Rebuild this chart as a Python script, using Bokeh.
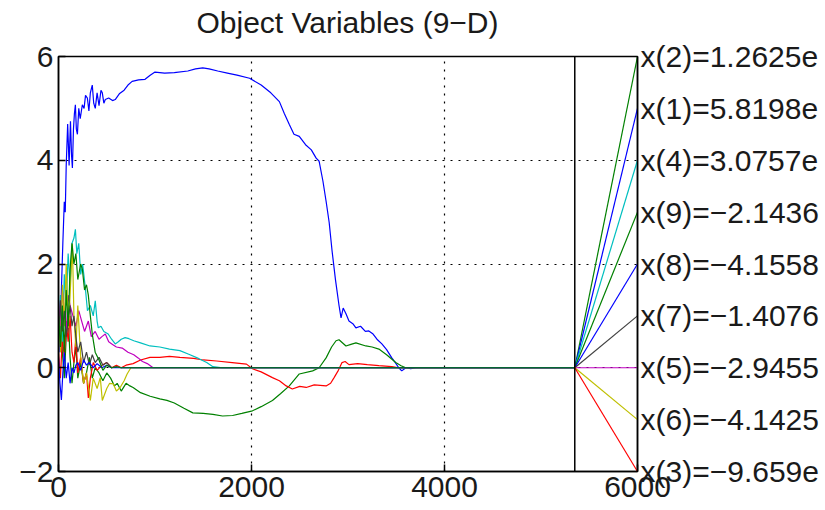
from bokeh.plotting import figure
from bokeh.models import (FixedTicker, LinearAxis, Span, Range1d, Div)
from bokeh.layouts import column
from bokeh.embed import file_html
from bokeh.resources import INLINE
import numpy as np

# ---------------- data ----------------
TITLE = "Object Variables (9\u2212D)"
X_TICKS = [0, 2000, 4000, 6000]
Y_TICKS = [-2, 0, 2, 4, 6]
END_X = 5350  # last evaluation (vertical marker)

x1_x = [0, 15, 30, 45, 60, 70, 80, 95, 110, 124, 135, 144, 155, 165, 175, 185, 196, 210, 225, 247, 265, 280, 299, 315,
        330, 350, 365, 381, 400, 420, 440, 454, 470, 485, 520, 560, 588, 630, 680, 720, 763, 830, 897, 950, 1000, 1100,
        1200, 1340, 1420, 1495, 1560, 1650, 1750, 1850, 1980, 2100, 2200, 2289, 2340, 2392, 2440, 2495, 2560, 2620, 2670,
        2701, 2740, 2773, 2805, 2835, 2870, 2907, 2928, 2950, 2979, 3010, 3050, 3082, 3130, 3180, 3216, 3260, 3300, 3351,
        3400, 3454, 3490, 3526, 3557, 3600, 3650, 3700, 3760]
x1_y = [0.8, 0.3, 1.5, 2.4, 3.2, 3.0, 3.9, 4.7, 3.9, 4.75, 4.1, 3.85, 4.6, 4.9, 5.07, 4.6, 4.5, 5.0, 4.8, 5.07, 5.0, 5.25,
        5.2, 4.95, 5.3, 5.45, 5.1, 5.0, 5.3, 5.05, 5.35, 5.3, 5.1, 5.17, 5.2, 5.15, 5.17, 5.28, 5.35, 5.45, 5.52, 5.55,
        5.56, 5.64, 5.7, 5.68, 5.69, 5.72, 5.76, 5.78, 5.76, 5.72, 5.68, 5.64, 5.58, 5.45, 5.3, 5.13, 4.9, 4.69, 4.5,
        4.46, 4.3, 4.2, 4.04, 3.98, 3.6, 3.21, 2.8, 2.25, 1.7, 1.2, 0.96, 1.15, 1.04, 0.9, 0.85, 0.77, 0.8, 0.7, 0.71,
        0.65, 0.55, 0.46, 0.35, 0.19, 0.1, 0.0, -0.06, 0.0, -0.02, 0.0, 0.0]

x2_x = [0, 20, 40, 60, 80, 100, 120, 140, 160, 180, 200, 230, 260, 290, 320, 350, 380, 420, 460, 500, 540, 580, 608, 650,
        700, 740, 773, 850, 950, 1050, 1124, 1200, 1300, 1392, 1500, 1600, 1700, 1804, 1900, 2010, 2100, 2217, 2300, 2392,
        2495, 2634, 2701, 2773, 2830, 2876, 2907, 2979, 3030, 3082, 3185, 3250, 3320, 3400, 3495, 3550, 3598, 3700]
x2_y = [0.5, 1.2, 0.3, -0.2, 0.6, 1.0, 0.2, -0.3, 0.1, 0.4, -0.2, 0.1, -0.3, -0.1, 0.2, -0.2, 0.0, -0.1, -0.25, -0.1,
        -0.2, -0.35, -0.3, -0.45, -0.3, -0.35, -0.38, -0.48, -0.55, -0.6, -0.63, -0.68, -0.78, -0.87, -0.88, -0.9, -0.93,
        -0.92, -0.88, -0.83, -0.75, -0.63, -0.5, -0.35, -0.12, -0.06, 0.0, 0.19, 0.4, 0.52, 0.54, 0.42, 0.45, 0.48, 0.42,
        0.4, 0.36, 0.25, 0.1, 0.04, 0.0, 0.0]

x3_x = [0, 20, 40, 60, 80, 100, 120, 140, 160, 180, 200, 230, 260, 290, 309, 330, 360, 400, 450, 500, 550, 600, 650, 700,
        773, 850, 948, 1050, 1150, 1258, 1400, 1500, 1639, 1800, 1948, 2010, 2100, 2217, 2289, 2360, 2423, 2500, 2567,
        2650, 2773, 2820, 2856, 2900, 2938, 2970, 3010, 3100, 3200, 3320, 3454, 3526]
x3_y = [0.3, -0.2, 0.6, 0.2, 0.9, 0.5, 1.0, 0.3, 0.1, 0.6, -0.1, 0.2, -0.3, -0.1, -0.58, -0.2, 0.1, -0.05, 0.05, 0.1,
        0.0, 0.05, 0.0, 0.05, 0.08, 0.15, 0.2, 0.2, 0.22, 0.2, 0.18, 0.15, 0.13, 0.1, 0.07, -0.02, -0.08, -0.19, -0.25,
        -0.35, -0.41, -0.36, -0.38, -0.33, -0.35, -0.3, -0.19, -0.05, 0.1, 0.12, 0.06, 0.08, 0.06, 0.04, 0.02, 0.0]

x4_x = [0, 20, 40, 60, 80, 100, 120, 140, 160, 175, 190, 210, 230, 250, 278, 300, 330, 360, 381, 400, 412, 440, 470, 515,
        550, 588, 620, 650, 690, 730, 780, 850, 948, 1050, 1150, 1258, 1350, 1450, 1536, 1600, 1700]
x4_y = [0.8, 1.4, 0.5, 1.8, 1.2, 2.2, 1.6, 2.4, 2.5, 2.67, 2.2, 2.4, 1.8, 2.0, 1.54, 1.1, 1.2, 1.0, 1.29, 0.9, 0.77, 0.8,
        0.7, 0.65, 0.55, 0.46, 0.5, 0.55, 0.58, 0.56, 0.52, 0.48, 0.42, 0.4, 0.36, 0.33, 0.26, 0.18, 0.1, 0.02, 0.0]

x5_x = [0, 20, 40, 60, 80, 100, 120, 150, 180, 210, 240, 270, 309, 340, 380, 420, 450, 485, 520, 560, 600, 660, 720, 780,
        825, 870, 920, 980, 1050]
x5_y = [1.3, 0.8, 1.5, 1.1, 0.7, 1.4, 1.2, 1.0, 0.8, 1.1, 0.9, 0.7, 0.9, 0.6, 0.7, 0.55, 0.6, 0.65, 0.5, 0.45, 0.4, 0.38,
        0.3, 0.25, 0.19, 0.12, 0.08, 0.0, 0.0]

x6_x = [0, 20, 40, 60, 80, 103, 120, 144, 160, 180, 200, 230, 260, 290, 330, 360, 400, 433, 454, 500, 530, 567, 600, 639,
        680, 711, 750, 800]
x6_y = [1.0, 0.3, 1.6, 0.8, 2.0, 0.77, 1.4, 2.38, 1.0, 0.4, 1.2, 0.2, -0.3, -0.1, -0.63, -0.2, -0.4, -0.19, -0.63, -0.4,
        -0.3, -0.31, -0.45, -0.38, -0.25, -0.12, 0.0, 0.0]

x7_x = [0, 20, 40, 60, 80, 100, 120, 140, 160, 180, 200, 230, 260, 290, 320, 350, 380, 420, 460, 500, 550, 600, 650]
x7_y = [0.5, 1.3, 0.7, 1.1, 0.6, 0.9, 1.2, 0.8, 1.0, 0.6, 0.3, 0.5, 0.1, 0.3, 0.05, 0.25, 0.1, 0.2, 0.05, 0.1, 0.0, 0.02,
        0.0]

x8_x = [0, 15, 30, 45, 60, 80, 100, 120, 140, 160, 180, 200, 230, 260, 290, 320, 360, 400, 450, 500, 550, 600]
x8_y = [0.2, -0.3, -0.62, -0.1, 0.3, -0.2, 0.1, -0.3, 0.0, -0.1, 0.05, 0.1, -0.05, 0.15, 0.05, 0.1, 0.0, 0.08, 0.0, 0.05,
        0.0, 0.0]

x9_x = [0, 20, 40, 60, 80, 100, 120, 140, 160, 180, 200, 230, 247, 270, 290, 309, 330, 350, 380, 420, 460, 500, 550, 600,
        650]
x9_y = [1.0, 0.4, 1.2, 0.3, 1.5, 0.8, 1.9, 2.4, 2.0, 2.2, 1.7, 2.0, 1.9, 1.5, 1.6, 1.4, 1.0, 0.65, 0.3, 0.15, -0.05,
        0.05, 0.0, 0.02, 0.0]

SERIES_NAMES = ["x(1)", "x(2)", "x(3)", "x(4)", "x(5)", "x(6)", "x(7)", "x(8)", "x(9)"]
SERIES_X = [x1_x, x2_x, x3_x, x4_x, x5_x, x6_x, x7_x, x8_x, x9_x]
SERIES_Y = [x1_y, x2_y, x3_y, x4_y, x5_y, x6_y, x7_y, x8_y, x9_y]
COLORS = ["#0000ff", "#008000", "#ff0000", "#00bfbf", "#bf00bf", "#bfbf00", "#404040", "#0000ff", "#008000"]

# final values as printed (visible part), label order top to bottom
LABEL_ORDER = [1, 0, 3, 8, 7, 6, 4, 5, 2]  # indices into SERIES_NAMES
FINAL_TEXT = ["5.8198e", "1.2625e", "\u22129.659e", "3.0757e", "\u22122.9455",
              "\u22124.1425", "\u22121.4076", "\u22124.1558", "\u22122.1436"]

# ---------------- plot ----------------
FONT = "Liberation Sans"
title_div = Div(text=TITLE, width=579, height=30, margin=(8, 0, 0, 58),
                styles={"font-family": FONT, "font-size": "30px", "line-height": "30px",
                        "text-align": "center", "color": "#1a1a1a", "white-space": "nowrap"})

p = figure(width=825, height=472, output_backend="svg", toolbar_location=None,
           x_range=Range1d(0, 6000), y_range=Range1d(-2, 6),
           min_border_left=58, min_border_right=188, min_border_top=18, min_border_bottom=39,
           margin=(0, 0, 0, 0))
p.background_fill_color = "white"
p.border_fill_color = "white"
p.outline_line_color = "black"
p.outline_line_width = 1.5

for ax in (p.xaxis[0], p.yaxis[0]):
    ax.major_label_text_font = FONT
    ax.major_label_text_font_size = "30px"
    ax.major_label_text_color = "#1a1a1a"
    ax.major_tick_in = 7
    ax.major_tick_out = 0
    ax.minor_tick_in = 0
    ax.minor_tick_out = 0
    ax.axis_line_color = "black"
    ax.axis_line_width = 1.5
    ax.major_tick_line_width = 1.5
    ax.major_label_standoff = 5
p.xaxis.ticker = FixedTicker(ticks=X_TICKS)
p.yaxis.ticker = FixedTicker(ticks=Y_TICKS)
p.yaxis.major_label_overrides = {t: ("\u2212" + str(-t) if t < 0 else str(t)) for t in Y_TICKS}

p.xgrid.ticker = FixedTicker(ticks=X_TICKS)
p.ygrid.ticker = FixedTicker(ticks=Y_TICKS)
for g in (p.xgrid[0], p.ygrid[0]):
    g.grid_line_color = "black"
    g.grid_line_dash = "2 6"
    g.grid_line_width = 1.2
    g.grid_line_alpha = 1.0

n = len(SERIES_NAMES)
label_ys = [float(v) for v in np.linspace(Y_TICKS[-1], Y_TICKS[0], n)]
final_y = {}
for i in range(n):
    xs = list(SERIES_X[i]) + [END_X]
    ys = list(SERIES_Y[i]) + [SERIES_Y[i][-1]]
    final_y[i] = ys[-1]
    p.line(xs, ys, line_color=COLORS[i], line_width=1.2)

fan_x0, fan_y0, fan_x1, fan_y1, fan_c, lab_txt = [], [], [], [], [], []
for rank, idx in enumerate(LABEL_ORDER):
    fan_x0.append(END_X)
    fan_y0.append(final_y[idx])
    fan_x1.append(X_TICKS[-1])
    fan_y1.append(label_ys[rank])
    fan_c.append(COLORS[idx])
    lab_txt.append(SERIES_NAMES[idx] + "=" + FINAL_TEXT[idx])

p.segment(x0=fan_x0, y0=fan_y0, x1=fan_x1, y1=fan_y1, line_color=fan_c, line_width=1.2)

p.add_layout(Span(location=END_X, dimension="height", line_color="black", line_width=1.5))

# right-hand value labels, drawn as a right axis whose ticks sit at the fan ends
lab_axis = LinearAxis(ticker=FixedTicker(ticks=label_ys),
                      major_label_overrides={y: t for y, t in zip(label_ys, lab_txt)},
                      major_tick_in=0, major_tick_out=0, minor_tick_in=0, minor_tick_out=0,
                      axis_line_color="black", axis_line_width=1.5, major_label_standoff=3,
                      major_label_text_font=FONT, major_label_text_font_size="30px",
                      major_label_text_color="#1a1a1a")
p.add_layout(lab_axis, "right")

layout = column(title_div, p, spacing=0)
open("out.html", "w").write(file_html(layout, INLINE))
